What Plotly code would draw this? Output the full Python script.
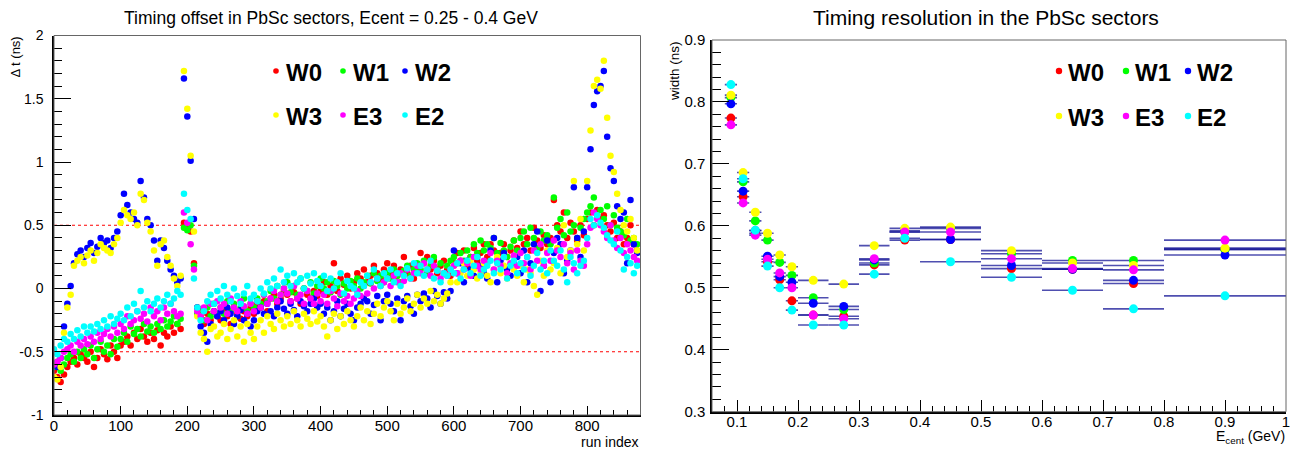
import plotly.graph_objects as go

W, H = 1292, 449

# ---------------- data: left panel (timing offset per run) ----------------
run_step = 5
run_index = list(range(0, 880, run_step))  # sampled run indices (176)

dt_W0 = [
    -0.65, -0.70, -0.74, -0.68, -0.62, -0.58, -0.55, -0.60, -0.52, -0.55,
    -0.58, -0.50, -0.62, -0.55, -0.48, -0.52, -0.56, -0.45, -0.50, -0.55,
    -0.45, -0.42, -0.38, -0.45, -0.35, -0.40, -0.32, -0.38, -0.42, -0.35,
    -0.40, -0.33, -0.45, -0.35, -0.38, -0.30, -0.35, -0.28, -0.32, 0.52,
    0.48, 0.45, 0.20, -0.15, -0.22, -0.28, -0.20, -0.25, -0.18, -0.22,
    -0.25, -0.18, -0.22, -0.28, -0.15, -0.20, -0.24, -0.18, -0.22, -0.15,
    -0.20, -0.12, -0.15, -0.10, -0.18, -0.08, -0.05, -0.12, -0.08, -0.02,
    -0.05, -0.10, -0.03, -0.08, -0.12, 0.00, -0.05, -0.08, -0.02, -0.06,
    -0.02, 0.05, -0.05, 0.02, 0.20, -0.02, 0.08, 0.03, 0.10, 0.00,
    0.05, 0.12, 0.08, 0.15, 0.05, 0.10, 0.18, 0.12, 0.08, 0.15,
    0.20, 0.12, 0.18, 0.10, 0.15, 0.25, 0.12, 0.18, 0.08, 0.15,
    0.28, 0.20, 0.25, 0.15, 0.22, 0.12, 0.18, 0.22, 0.15, 0.10,
    0.20, 0.28, 0.22, 0.30, 0.18, 0.25, 0.32, 0.22, 0.28, 0.35,
    0.25, 0.35, 0.30, 0.22, 0.28, 0.35, 0.25, 0.30, 0.38, 0.32,
    0.45, 0.35, 0.40, 0.30, 0.48, 0.38, 0.32, 0.42, 0.35, 0.40,
    0.70, 0.50, 0.45, 0.60, 0.40, 0.52, 0.45, 0.38, 0.50, 0.42,
    0.55, 0.60, 0.50, 0.62, 0.55, 0.58, 0.50, 0.45, 0.52, 0.40, 0.45, 0.35, 0.40, 0.50, 0.35, 0.30,
]

dt_W1 = [
    -0.62, -0.58, -0.65, -0.60, -0.55, -0.52, -0.58, -0.50, -0.55, -0.48,
    -0.52, -0.45, -0.55, -0.48, -0.42, -0.50, -0.45, -0.52, -0.40, -0.46,
    -0.40, -0.35, -0.42, -0.30, -0.36, -0.32, -0.38, -0.28, -0.34, -0.30,
    -0.35, -0.28, -0.32, -0.25, -0.30, -0.26, -0.22, -0.28, -0.24, 0.48,
    0.46, 0.50, 0.18, -0.20, -0.18, -0.25, -0.15, -0.22, -0.12, -0.20,
    -0.15, -0.20, -0.10, -0.18, -0.12, -0.22, -0.15, -0.08, -0.18, -0.12,
    -0.15, -0.08, -0.12, -0.05, -0.10, -0.02, -0.08, 0.02, -0.05, 0.00,
    0.05, -0.03, 0.02, -0.05, 0.08, 0.00, -0.02, 0.05, -0.04, 0.02,
    0.08, 0.00, 0.05, -0.03, 0.06, 0.02, -0.05, 0.04, 0.00, 0.06,
    0.02, 0.08, 0.00, 0.05, 0.10, 0.04, 0.12, 0.06, 0.10, 0.05,
    0.12, 0.08, 0.15, 0.10, 0.05, 0.14, 0.18, 0.10, 0.15, 0.20,
    0.15, 0.22, 0.12, 0.18, 0.25, 0.15, 0.20, 0.12, 0.18, 0.22,
    0.25, 0.20, 0.28, 0.22, 0.30, 0.25, 0.35, 0.28, 0.38, 0.30,
    0.35, 0.32, 0.40, 0.28, 0.36, 0.30, 0.25, 0.33, 0.38, 0.30,
    0.40, 0.45, 0.35, 0.48, 0.40, 0.32, 0.45, 0.38, 0.42, 0.35,
    0.72, 0.48, 0.55, 0.42, 0.60, 0.45, 0.50, 0.40, 0.48, 0.55,
    0.60, 0.65, 0.72, 0.58, 0.62, 0.55, 0.65, 0.50, 0.58, 0.48, 0.45, 0.42, 0.55, 0.38, 0.40, 0.35,
]

dt_W2 = [
    -0.60, -0.62, -0.55, -0.30, -0.12, 0.02, 0.20, 0.27, 0.30, 0.25,
    0.32, 0.36, 0.28, 0.33, 0.40, 0.36, 0.38, 0.32, 0.40, 0.45,
    0.58, 0.75, 0.66, 0.60, 0.55, 0.52, 0.85, 0.72, 0.55, 0.50,
    0.38, 0.22, 0.38, 0.32, 0.22, 0.15, 0.10, 0.05, 0.08, 1.66,
    1.36, 1.01, 0.55, -0.15, -0.30, -0.35, -0.42, -0.28, -0.18, -0.22,
    -0.18, -0.25, -0.15, -0.20, -0.28, -0.22, -0.17, -0.25, -0.20, -0.30,
    -0.25, -0.18, -0.15, -0.20, -0.12, -0.18, -0.22, -0.15, -0.10, -0.16,
    -0.20, -0.12, -0.17, -0.22, -0.10, -0.14, -0.18, -0.12, -0.08, -0.15,
    -0.12, -0.20, -0.15, -0.25, -0.18, -0.10, -0.22, -0.16, -0.12, -0.20,
    -0.25, -0.15, -0.12, -0.08, -0.10, -0.20, -0.13, -0.06, -0.25, -0.10,
    -0.05, -0.12, -0.18, -0.08, -0.25, -0.10, -0.06, -0.14, -0.20, -0.05,
    -0.10, -0.04, -0.08, -0.15, -0.02, -0.06, -0.12, -0.03, -0.08, -0.02,
    0.30, 0.12, 0.20, 0.05, 0.22, 0.15, 0.10, 0.25, 0.18, 0.12,
    0.08, 0.30, 0.40, 0.05, 0.22, 0.28, 0.15, 0.10, 0.20, 0.25,
    0.12, 0.30, 0.05, 0.20, 0.35, 0.45, -0.02, 0.18, 0.38, 0.05,
    0.28, 0.40, 0.35, 0.12, 0.22, 0.30, 0.80, 0.40, 0.25, 0.45,
    0.80, 1.10, 1.45, 1.56, 1.60, 1.72, 1.20, 0.95, 0.85, 0.65, 0.55, 0.60, 0.20, 0.70, 0.35, 0.28,
]

dt_W3 = [
    -0.70, -0.72, -0.62, -0.35, -0.15, -0.05, 0.18, 0.22, 0.25, 0.20,
    0.26, 0.30, 0.22, 0.28, 0.35, 0.32, 0.30, 0.28, 0.35, 0.40,
    0.52, 0.62, 0.58, 0.55, 0.60, 0.50, 0.75, 0.70, 0.52, 0.45,
    0.30, 0.18, 0.35, 0.38, 0.25, 0.18, 0.08, 0.02, 0.10, 1.72,
    1.42, 1.05, 0.45, -0.22, -0.35, -0.40, -0.50, -0.32, -0.30, -0.38,
    -0.35, -0.28, -0.40, -0.32, -0.25, -0.38, -0.30, -0.42, -0.28, -0.35,
    -0.40, -0.30, -0.25, -0.35, -0.22, -0.28, -0.32, -0.20, -0.25, -0.30,
    -0.22, -0.28, -0.18, -0.25, -0.30, -0.20, -0.24, -0.28, -0.18, -0.26,
    -0.22, -0.30, -0.38, -0.25, -0.20, -0.32, -0.22, -0.28, -0.18, -0.25,
    -0.30, -0.22, -0.15, -0.25, -0.18, -0.28, -0.20, -0.12, -0.22, -0.15,
    -0.10, -0.18, -0.25, -0.12, -0.20, -0.15, -0.08, -0.18, -0.12, -0.05,
    -0.15, -0.08, -0.12, -0.02, -0.10, -0.05, -0.12, -0.08, -0.04, 0.05,
    0.18, 0.05, 0.12, 0.20, 0.10, 0.22, 0.15, 0.08, 0.12, 0.20,
    0.10, 0.05, 0.15, 0.25, 0.12, 0.18, 0.08, 0.20, 0.15, 0.10,
    0.18, 0.05, 0.15, 0.12, 0.02, -0.05, 0.22, 0.10, 0.30, 0.15,
    0.20, 0.32, 0.12, 0.50, 0.25, 0.30, 0.85, 0.35, 0.55, 0.30,
    0.85, 1.25, 1.60, 1.65, 1.58, 1.80, 1.35, 1.05, 0.92, 0.75, 0.62, 0.50, 0.45, 0.55, 0.40, 0.30,
]

dt_E3 = [
    -0.60, -0.58, -0.55, -0.50, -0.48, -0.45, -0.50, -0.42, -0.45, -0.40,
    -0.44, -0.38, -0.42, -0.35, -0.40, -0.36, -0.32, -0.38, -0.30, -0.35,
    -0.28, -0.32, -0.22, -0.28, -0.25, -0.18, -0.24, -0.20, -0.26, -0.15,
    -0.22, -0.18, -0.25, -0.15, -0.20, -0.12, -0.18, -0.22, -0.20, 0.60,
    0.52, 0.35, 0.15, -0.18, -0.22, -0.15, -0.25, -0.12, -0.18, -0.10,
    -0.15, -0.12, -0.20, -0.08, -0.15, -0.18, -0.10, -0.14, -0.20, -0.12,
    -0.18, -0.10, -0.15, -0.05, -0.12, -0.08, -0.02, -0.10, -0.05, 0.00,
    -0.04, -0.10, 0.02, -0.08, -0.05, -0.12, -0.02, -0.08, -0.12, -0.04,
    -0.10, -0.05, -0.12, -0.02, -0.08, -0.14, -0.04, -0.10, -0.06, -0.12,
    -0.08, -0.02, -0.06, 0.02, -0.04, 0.05, 0.00, 0.08, 0.02, 0.05,
    0.08, 0.02, 0.10, 0.05, 0.12, 0.06, 0.15, 0.08, 0.12, 0.18,
    0.12, 0.20, 0.15, 0.10, 0.18, 0.14, 0.08, 0.12, 0.10, 0.15,
    0.18, 0.12, 0.22, 0.15, 0.20, 0.10, 0.25, 0.18, 0.15, 0.22,
    0.20, 0.28, 0.15, 0.22, 0.18, 0.25, 0.12, 0.20, 0.26, 0.18,
    0.28, 0.20, 0.25, 0.15, 0.30, 0.22, 0.35, 0.18, 0.28, 0.22,
    0.38, 0.30, 0.25, 0.35, 0.20, 0.28, 0.15, 0.30, 0.22, 0.18,
    0.35, 0.48, 0.60, 0.55, 0.50, 0.45, 0.40, 0.50, 0.38, 0.32, 0.40, 0.28, 0.35, 0.30, 0.25, 0.22,
]

dt_E2 = [
    -0.48, -0.52, -0.45, -0.40, -0.42, -0.36, -0.40, -0.33, -0.38, -0.30,
    -0.35, -0.30, -0.34, -0.28, -0.32, -0.25, -0.30, -0.22, -0.28, -0.24,
    -0.20, -0.25, -0.15, -0.22, -0.12, -0.18, -0.02, -0.15, -0.10, -0.18,
    -0.12, -0.08, -0.15, -0.10, -0.05, -0.12, -0.08, -0.02, -0.05, 0.75,
    0.62, 0.55, 0.08, -0.15, -0.25, -0.18, -0.10, -0.05, -0.12, -0.02,
    -0.08, 0.02, -0.05, -0.10, 0.00, -0.06, -0.12, -0.04, 0.02, -0.08,
    -0.05, -0.10, 0.00, -0.04, 0.05, 0.00, 0.08, 0.02, 0.15, 0.05,
    0.10, 0.02, 0.12, 0.05, 0.08, 0.00, 0.10, 0.04, 0.12, 0.06,
    0.02, 0.10, -0.02, 0.08, 0.00, 0.05, 0.12, -0.04, 0.06, 0.02,
    0.00, -0.05, 0.05, 0.02, 0.10, 0.05, 0.15, 0.08, 0.02, 0.12,
    0.08, 0.15, 0.05, 0.12, 0.02, 0.10, 0.16, 0.08, 0.20, 0.12,
    0.18, 0.10, 0.15, 0.22, 0.08, 0.14, 0.05, 0.12, 0.10, 0.15,
    0.12, 0.20, 0.08, 0.15, 0.22, 0.12, 0.18, 0.25, 0.10, 0.15,
    0.18, 0.22, 0.12, 0.20, 0.15, 0.25, 0.08, 0.18, 0.22, 0.12,
    0.20, 0.15, 0.25, 0.10, 0.18, 0.28, 0.15, 0.22, 0.12, 0.30,
    0.22, 0.18, 0.30, 0.15, 0.05, 0.25, 0.20, 0.12, 0.18, 0.22,
    0.40, 0.55, 0.50, 0.58, 0.52, 0.48, 0.42, 0.38, 0.35, 0.45, 0.30, 0.15, 0.25, 0.20, 0.12, 0.18,
]

limit_lines = [-0.5, 0.5]
offset_ticks = [-1, -0.5, 0, 0.5, 1, 1.5, 2]
offset_ticktext = ["-1", "-0.5", "0", "0.5", "1", "1.5", "2"]

# ---------------- data: right panel (timing resolution vs energy) --------
e_lo = [0.08, 0.10, 0.12, 0.14, 0.16, 0.18, 0.20, 0.25, 0.30, 0.35, 0.40, 0.50, 0.60, 0.70, 0.80]
e_hi = [0.10, 0.12, 0.14, 0.16, 0.18, 0.20, 0.25, 0.30, 0.35, 0.40, 0.50, 0.60, 0.70, 0.80, 1.00]

w_W0 = [0.774, 0.647, 0.588, 0.542, 0.513, 0.479, 0.456, 0.454, 0.537, 0.577, 0.578, 0.531, 0.530, 0.507, 0.562]
w_W1 = [0.807, 0.671, 0.608, 0.577, 0.541, 0.520, 0.484, 0.465, 0.540, 0.590, 0.596, 0.555, 0.544, 0.544, 0.562]
w_W2 = [0.797, 0.656, 0.592, 0.551, 0.518, 0.509, 0.475, 0.470, 0.545, 0.592, 0.578, 0.536, 0.530, 0.512, 0.553]
w_W3 = [0.811, 0.686, 0.622, 0.588, 0.553, 0.534, 0.512, 0.506, 0.568, 0.596, 0.598, 0.560, 0.540, 0.536, 0.564]
w_E3 = [0.763, 0.637, 0.585, 0.546, 0.524, 0.500, 0.456, 0.450, 0.547, 0.590, 0.590, 0.547, 0.531, 0.529, 0.577]
w_E2 = [0.828, 0.676, 0.593, 0.535, 0.500, 0.464, 0.440, 0.440, 0.522, 0.580, 0.542, 0.517, 0.496, 0.466, 0.487]

sectors = ["W0", "W1", "W2", "W3", "E3", "E2"]
colors = ["#ff0000", "#00ff00", "#0000ff", "#ffff00", "#ff00ff", "#00ffff"]

offsets = [dt_W0, dt_W1, dt_W2, dt_W3, dt_E3, dt_E2]
widths = [w_W0, w_W1, w_W2, w_W3, w_E3, w_E2]

for s in offsets:
    assert len(s) == len(run_index), len(s)

e_center = [(a + b) / 2 for a, b in zip(e_lo, e_hi)]
e_half = [(b - a) / 2 for a, b in zip(e_lo, e_hi)]

FONT = "Liberation Sans, Arial, Helvetica, sans-serif"


def px(x):
    return x / W


def py(y):
    return 1 - y / H


fig = go.Figure()

for name, col, ys in zip(sectors, colors, offsets):
    fig.add_trace(go.Scatter(
        x=run_index, y=ys, mode="markers", name=name, showlegend=False,
        marker=dict(color=col, size=6.5, line=dict(width=0)),
        xaxis="x", yaxis="y",
    ))

for name, col, ys in zip(sectors, colors, widths):
    fig.add_trace(go.Scatter(
        x=e_center, y=ys, mode="markers", name=name, showlegend=False,
        marker=dict(color=col, size=9, line=dict(width=0)),
        error_x=dict(type="data", array=e_half, symmetric=True,
                     color="rgba(20,20,150,0.75)", thickness=1.6, width=0),
        xaxis="x2", yaxis="y2",
    ))

# dotted limit lines on the offset panel
shapes = []
for yl in limit_lines:
    shapes.append(dict(type="line", xref="x", yref="y", x0=0, x1=880, y0=yl, y1=yl,
                       line=dict(color="#ff0000", width=1, dash="dot"), layer="below"))

# frames (top/right thin grey lines)
for xr, yr in (("x", "y"), ("x2", "y2")):
    shapes.append(dict(type="rect", xref=f"{xr} domain", yref=f"{yr} domain",
                       x0=0, x1=1, y0=0, y1=1, line=dict(color="#666666", width=1),
                       layer="above"))

annotations = []

# legends (dot + bold label), 3 per row
leg_left = dict(dots=[276, 343, 405], texts=[284, 351, 413], rows=[71, 115])
leg_right = dict(dots=[1059, 1126, 1188], texts=[1066, 1133, 1195], rows=[71, 116])
for leg, r in ((leg_left, 2.8), (leg_right, 3.2)):
    for k, (name, col) in enumerate(zip(sectors, colors)):
        row, c = divmod(k, 3)
        yy = leg["rows"][row]
        shapes.append(dict(type="circle", xref="paper", yref="paper",
                           xsizemode="pixel", ysizemode="pixel",
                           xanchor=px(leg["dots"][c]), yanchor=py(yy),
                           x0=-r, x1=r, y0=-r, y1=r,
                           fillcolor=col, line=dict(width=0)))
        annotations.append(dict(text=name, xref="paper", yref="paper",
                                x=px(leg["texts"][c]), y=py(yy + 1), xanchor="left", yanchor="middle",
                                showarrow=False,
                                font=dict(family=FONT, size=24, color="black", weight="bold")))

# titles
annotations.append(dict(text="Timing offset in PbSc sectors, Ecent = 0.25 - 0.4 GeV",
                        xref="paper", yref="paper", x=px(331), y=py(18),
                        xanchor="center", yanchor="middle", showarrow=False,
                        font=dict(family=FONT, size=17.5, color="black")))
annotations.append(dict(text="Timing resolution in the PbSc sectors",
                        xref="paper", yref="paper", x=px(986), y=py(18),
                        xanchor="center", yanchor="middle", showarrow=False,
                        font=dict(family=FONT, size=21, color="black")))
# axis titles
annotations.append(dict(text="Δ t (ns)", xref="paper", yref="paper", x=px(15), y=py(35),
                        xanchor="center", yanchor="top", textangle=-90, showarrow=False,
                        font=dict(family=FONT, size=13, color="black")))
annotations.append(dict(text="width (ns)", xref="paper", yref="paper", x=px(674), y=py(39),
                        xanchor="center", yanchor="top", textangle=-90, showarrow=False,
                        font=dict(family=FONT, size=13.5, color="black")))
annotations.append(dict(text="run index", xref="paper", yref="paper", x=px(641), y=py(442),
                        xanchor="right", yanchor="middle", showarrow=False,
                        font=dict(family=FONT, size=14, color="black")))
annotations.append(dict(text="E<sub>cent</sub> (GeV)", xref="paper", yref="paper", x=px(1287), y=py(437),
                        xanchor="right", yanchor="middle", showarrow=False,
                        font=dict(family=FONT, size=14, color="black")))

axis_common = dict(showgrid=False, zeroline=False, ticks="inside", tickcolor="black",
                   showline=True, linecolor="black", linewidth=1.5, mirror=False,
                   automargin=False,
                   tickfont=dict(family=FONT, size=14, color="black"))

fig.update_layout(
    width=W, height=H,
    margin=dict(l=0, r=0, t=0, b=0, autoexpand=False),
    paper_bgcolor="white", plot_bgcolor="white",
    showlegend=False,
    xaxis=dict(axis_common, domain=[px(54), px(640.5)], range=[0, 880], anchor="y",
               tickmode="linear", tick0=0, dtick=100, ticklen=9, tickwidth=1.2,
               ticklabelstandoff=-4,
               tickfont=dict(family=FONT, size=15, color="black"),
               minor=dict(tickmode="linear", tick0=0, dtick=20, ticklen=5, ticks="inside",
                          tickcolor="black", showgrid=False)),
    yaxis=dict(axis_common, domain=[py(415), py(35.5)], range=[-1, 2], anchor="x",
               tickmode="array", tickvals=offset_ticks, ticktext=offset_ticktext,
               ticklen=17, tickwidth=1.2, ticklabelstandoff=6,
               minor=dict(tickmode="linear", tick0=0, dtick=0.1, ticklen=8, ticks="inside",
                          tickcolor="black", showgrid=False)),
    xaxis2=dict(axis_common, domain=[px(712), px(1286)], range=[0.059, 1.0], anchor="y2",
                tickmode="linear", tick0=0, dtick=0.1, ticklen=12, tickwidth=1.2,
                ticklabelstandoff=-4,
                tickfont=dict(family=FONT, size=15, color="black"),
                minor=dict(tickmode="linear", tick0=0, dtick=0.02, ticklen=6, ticks="inside",
                           tickcolor="black", showgrid=False)),
    yaxis2=dict(axis_common, domain=[py(411.7), py(40)], range=[0.3, 0.9], anchor="x2",
                tickmode="linear", tick0=0, dtick=0.1, ticklen=17, tickwidth=1.2,
                tickfont=dict(family=FONT, size=15, color="black"), ticklabelstandoff=2,
                minor=dict(tickmode="linear", tick0=0, dtick=0.02, ticklen=9, ticks="inside",
                           tickcolor="black", showgrid=False)),
    shapes=shapes,
    annotations=annotations,
)

fig.write_html("out.html")
